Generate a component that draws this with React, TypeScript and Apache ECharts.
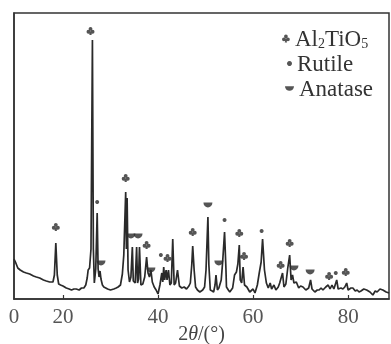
import React, { useEffect, useRef } from "react";
import * as echarts from "echarts";

// Diffraction pattern: 2θ (°) and intensity (a.u.)
const twoTheta = [
  9.7, 10.0, 10.5, 11.0, 11.7, 12.3, 13.0, 13.8, 14.4, 15.1, 15.9, 16.5, 17.2, 17.9, 18.2, 18.5, 18.8, 19.1, 19.5, 20.0,
  20.7, 21.3, 21.8, 22.3, 22.8, 23.4, 23.9, 24.4, 24.8, 25.1, 25.3, 25.6, 25.9, 26.2, 26.4, 26.6, 26.9, 27.2, 27.4, 27.6,
  27.8, 28.0, 28.3, 28.6, 29.0, 29.4, 30.0, 30.7, 31.2, 31.6, 32.1, 32.5, 32.8, 33.2, 33.35, 33.5, 33.7, 34.0, 34.3, 34.6,
  34.8, 35.2, 35.5, 35.7, 35.9, 36.1, 36.4, 36.8, 37.2, 37.6, 37.9, 38.2, 38.5, 38.8, 39.2, 39.6, 40.0, 40.4, 40.8, 41.0,
  41.2, 41.4, 41.7, 41.9, 42.2, 42.5, 42.8, 43.1, 43.4, 43.7, 44.1, 44.5, 45.0, 45.5, 46.0, 46.5, 46.8, 47.1, 47.3, 47.6,
  47.9, 48.3, 48.8, 49.4, 49.8, 50.1, 50.5, 50.7, 51.0, 51.4, 51.7, 52.0, 52.2, 52.5, 52.8, 53.3, 53.6, 54.0, 54.3, 54.4,
  54.8, 55.1, 55.7, 56.1, 56.5, 56.8, 57.1, 57.3, 57.6, 57.9, 58.2, 58.7, 59.3, 60.0, 60.4, 60.9, 61.3, 61.7, 62.0, 62.4,
  62.8, 63.2, 63.6, 63.9, 64.4, 64.8, 65.3, 65.6, 66.2, 66.5, 66.9, 67.3, 67.7, 68.0, 68.3, 68.6, 69.1, 69.6, 70.0, 70.5,
  71.1, 71.7, 72.1, 72.4, 73.0, 73.5, 73.9, 74.3, 74.7, 75.3, 75.8, 76.2, 76.6, 77.0, 77.6, 77.9, 78.5, 78.9, 79.3, 79.7,
  80.0, 80.6, 81.0, 81.5, 81.9, 82.3, 82.7, 83.3, 83.9, 84.6, 85.2, 85.7, 86.1, 86.7, 87.3, 88.0, 88.6,
];
const intensity = [
  40, 37, 31, 29, 27, 26, 25, 23, 22, 21, 19, 18, 17, 17, 24, 56, 24, 15, 14, 13,
  11, 10, 9, 10, 10, 9, 11, 11, 14, 21, 29, 31, 50, 259, 50, 16, 30, 86, 30, 22,
  28, 20, 14, 12, 11, 10, 9, 10, 11, 12, 14, 25, 44, 107, 50, 101, 29, 17, 22, 52,
  18, 16, 52, 16, 20, 52, 14, 15, 22, 42, 26, 22, 29, 17, 12, 9, 5, 14, 26, 17,
  32, 19, 29, 19, 29, 14, 16, 60, 14, 16, 29, 13, 11, 12, 10, 13, 16, 34, 53, 29,
  12, 9, 7, 9, 12, 29, 82, 34, 9, 8, 7, 14, 24, 9, 11, 19, 37, 67, 29, 12,
  9, 7, 11, 24, 27, 35, 54, 19, 16, 32, 14, 12, 7, 10, 6, 14, 26, 37, 60, 29,
  16, 11, 16, 10, 14, 9, 12, 16, 26, 12, 15, 31, 44, 19, 24, 16, 17, 11, 13, 12,
  9, 11, 19, 10, 7, 9, 9, 11, 9, 12, 14, 10, 14, 10, 19, 10, 11, 10, 12, 16,
  9, 11, 11, 8, 9, 7, 8, 10, 9, 7, 4, 8, 7, 10, 9, 7, 6,
];

// Phase marks: 2θ and height of the mark above the baseline
const al2tio5Theta = [18.5, 25.8, 33.2, 37.6, 42.0, 47.3, 57.1, 58.1, 65.8, 67.7, 76.0, 79.5];
const al2tio5Mark = [72, 268, 121, 54, 41, 67, 66, 43, 34, 56, 23, 27];
const rutileTheta = [27.2, 40.6, 54.0, 61.8, 77.4];
const rutileMark = [97, 44, 79, 68, 26];
const anataseTheta = [28.0, 34.3, 35.8, 38.5, 50.5, 52.8, 68.6, 72.0];
const anataseMark = [36, 63, 63, 29, 94, 36, 31, 27];

const xTickValues = [20, 40, 60, 80];
const xLabelValues = [9.7, 20, 40, 60, 80];

const CLUB =
  "path://M28,28A22,22,0,1,1,72,28A22,22,0,1,1,28,28Z M4,62A22,22,0,1,1,48,62A22,22,0,1,1,4,62Z M52,62A22,22,0,1,1,96,62A22,22,0,1,1,52,62Z M50,50L64,100L36,100Z";
const BOWL = "path://M0,0L100,0A50,50,0,0,1,0,0Z";

const SERIF = "'Liberation Serif', 'DejaVu Serif', serif";
const INK = "#2a2a2a";

export default function App() {
  const ref = useRef<HTMLDivElement>(null);

  useEffect(() => {
    if (!ref.current) return;
    const chart = echarts.init(ref.current, undefined, { renderer: "svg" });
    const pairs = (xs: number[], ys: number[]) => xs.map((x, i) => [x, ys[i]]);
    const legendText = {
      fontFamily: SERIF,
      fontSize: 23,
      color: "#333",
      lineHeight: 23,
      rich: {
        s: { fontFamily: SERIF, fontSize: 14, color: "#333", verticalAlign: "bottom", lineHeight: 12 },
      },
    };
    chart.setOption({
      animation: false,
      grid: {
        left: 14, right: 2, top: 13, bottom: 45,
        outerBoundsMode: "none",
        containLabel: false,
        show: true, borderColor: "#333", borderWidth: 1.5,
      },
      legend: [
        {
          data: [{ name: "Al2TiO5", icon: CLUB }],
          left: 282, top: 27, padding: 0, itemWidth: 8, itemHeight: 8,
          selectedMode: false,
          formatter: () => "Al{s|2}TiO{s|5}",
          textStyle: legendText,
        },
        {
          data: [{ name: "Rutile", icon: "circle" }],
          left: 287, top: 52, padding: 0, itemWidth: 5, itemHeight: 5,
          selectedMode: false,
          textStyle: legendText,
        },
        {
          data: [{ name: "Anatase", icon: BOWL }],
          left: 285, top: 77, padding: 0, itemWidth: 9, itemHeight: 5,
          selectedMode: false,
          textStyle: legendText,
        },
      ],
      xAxis: {
        type: "value",
        min: 9.7,
        max: 88.6,
        axisLine: { show: true, lineStyle: { color: "#333", width: 1.5 } },
        axisTick: { show: true, inside: true, length: 4, customValues: xTickValues, lineStyle: { color: "#333", width: 1.2 } },
        axisLabel: {
          customValues: xLabelValues,
          formatter: (v: number) => (v < 15 ? "0" : String(v)),
          fontFamily: SERIF,
          fontSize: 21,
          color: "#555",
          margin: 6,
        },
        splitLine: { show: false },
        name: "{n|2}{i|θ}{n|/(°)}",
        nameLocation: "middle",
        nameGap: 24,
        nameMoveOverlap: false,
        nameTextStyle: {
          rich: {
            n: { fontFamily: SERIF, fontSize: 20, color: "#444" },
            i: { fontFamily: SERIF, fontSize: 20, color: "#444", fontStyle: "italic" },
          },
        },
      },
      yAxis: {
        type: "value",
        min: 0,
        max: 286,
        axisLine: { show: true, lineStyle: { color: "#333", width: 1.5 } },
        axisTick: { show: false },
        axisLabel: { show: false },
        splitLine: { show: false },
      },
      series: [
        {
          name: "pattern",
          type: "line",
          data: pairs(twoTheta, intensity),
          showSymbol: false,
          lineStyle: { color: INK, width: 1.7 },
          silent: true,
        },
        {
          name: "Al2TiO5",
          type: "scatter",
          symbol: CLUB,
          symbolSize: [8, 8],
          data: pairs(al2tio5Theta, al2tio5Mark),
          itemStyle: { color: INK },
          silent: true,
        },
        {
          name: "Rutile",
          type: "scatter",
          symbol: "circle",
          symbolSize: 4,
          data: pairs(rutileTheta, rutileMark),
          itemStyle: { color: INK },
          silent: true,
        },
        {
          name: "Anatase",
          type: "scatter",
          symbol: BOWL,
          symbolSize: [9, 5],
          data: pairs(anataseTheta, anataseMark),
          itemStyle: { color: INK },
          silent: true,
        },
      ],
    });
    return () => chart.dispose();
  }, []);

  return <div ref={ref} style={{ position: "fixed", left: 0, top: 0, width: 391, height: 344 }} />;
}
